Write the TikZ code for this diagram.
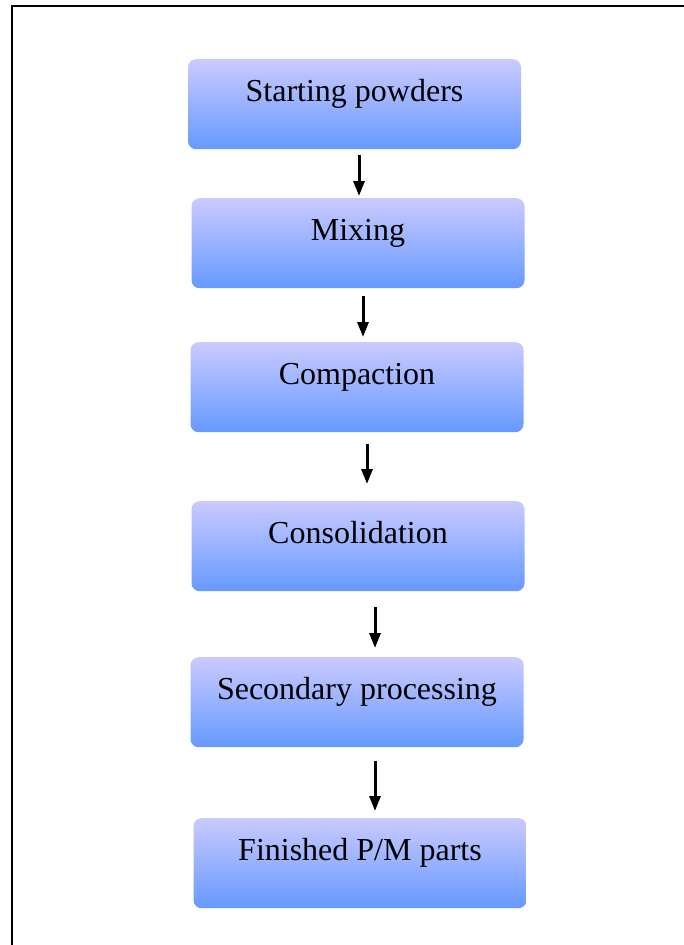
\documentclass[tikz,border=0pt]{standalone}
\usepackage{fontspec}
\setmainfont{Liberation Serif}
\usetikzlibrary{arrows.meta}
\definecolor{boxtop}{RGB}{202,202,255}
\definecolor{boxbot}{RGB}{102,153,255}
\tikzset{
  stage/.style={rounded corners=8pt, top color=boxtop, bottom color=boxbot,
    minimum width=333pt, inner ysep=0pt, text height=42pt, text depth=48pt,
    anchor=north, font=\fontsize{32}{38}\selectfont},
  flow/.style={line width=3pt, -{Triangle[length=15pt,width=11pt]}}
}
\begin{document}
\begin{tikzpicture}[x=1pt,y=-1pt]
\useasboundingbox (0,0) rectangle (684,945);
\draw[line width=2pt] (12,960) -- (12,6) -- (700,6);
\node[stage] (1) at (354.5,59) {Starting powders};
\node[stage] (2) at (358,198) {Mixing};
\node[stage] (3) at (357,342) {Compaction};
\node[stage] (4) at (358,501) {Consolidation};
\node[stage] (5) at (357,657) {Secondary processing};
\node[stage] (6) at (360,818) {Finished P/M parts};
\path[draw,flow] ([xshift=4.5pt,yshift=-6pt]1.south) -- ([xshift=1pt,yshift=2pt]2.north);
\path[draw,flow] ([xshift=5pt,yshift=-8pt]2.south) -- ([xshift=6pt,yshift=5pt]3.north);
\path[draw,flow] ([xshift=10pt,yshift=-12pt]3.south) -- ([xshift=9pt,yshift=17pt]4.north);
\path[draw,flow] ([xshift=17pt,yshift=-16pt]4.south) -- ([xshift=18pt,yshift=9pt]5.north);
\path[draw,flow] ([xshift=18pt,yshift=-14pt]5.south) -- ([xshift=15pt,yshift=7pt]6.north);
\end{tikzpicture}
\end{document}
